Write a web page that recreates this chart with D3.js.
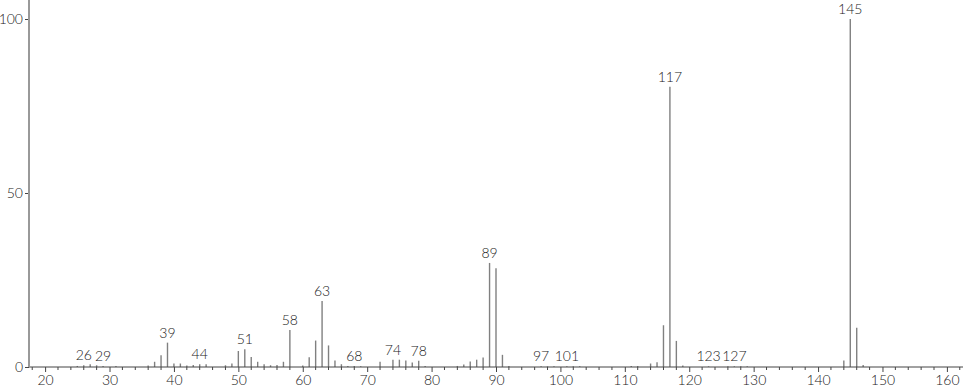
<!DOCTYPE html>
<html><head><meta charset="utf-8">
<script src="https://cdn.jsdelivr.net/npm/d3@7"></script>
<style>
html,body{margin:0;padding:0;background:#fff;}
text{font-family:"Lato","DejaVu Sans",sans-serif;font-weight:300;fill:#222;}
</style>
</head><body>
<svg id="c" width="966" height="389"></svg>
<script>
const mz = [25,26,27,28,29,31,36,37,38,39,40,41,42,43,44,45,48,49,50,51,52,53,54,55,56,57,58,60,61,62,63,64,65,66,67,68,69,72,74,75,76,77,78,79,84,85,86,87,88,89,90,91,92,97,98,99,101,102,103,111,112,114,115,116,117,118,119,123,126,127,128,129,144,145,146,147];
const intensity = [0.3,0.5,0.8,0.5,0.3,0.3,0.4,1.5,3.4,7.0,1.0,1.0,0.4,0.6,0.8,0.8,0.5,1.0,4.6,5.1,2.9,1.5,0.8,0.5,0.6,1.5,10.6,0.4,2.8,7.6,19.0,6.2,1.9,0.8,0.3,0.3,0.2,1.5,2.1,2.1,1.9,1.3,1.8,0.3,0.3,0.7,1.6,2.1,2.7,29.9,28.4,3.5,0.3,0.2,0.2,0.2,0.2,0.2,0.2,0.3,0.3,1.0,1.4,12.0,80.5,7.5,0.4,0.2,0.2,0.2,0.2,0.2,1.9,100,11.3,0.6];
const labeledPeaks = [26,29,39,44,51,58,63,68,74,78,89,97,101,117,123,127,145];
const xTicks = [20,30,40,50,60,70,80,90,100,110,120,130,140,150,160];
const yTicks = [0,50,100];

const svg = d3.select("#c");
const x = d3.scaleLinear().domain([17.5,162.5]).range([29,963]);
const y = d3.scaleLinear().domain([0,100]).range([367,19]);
const data = mz.map((m,i)=>({m, v:intensity[i]}));

// peaks
svg.append("g").selectAll("line").data(data).join("line")
  .attr("x1",d=>x(d.m)).attr("x2",d=>x(d.m))
  .attr("y1",y(0)).attr("y2",d=>y(d.v))
  .attr("stroke","#808080").attr("stroke-width",1.4);

// x axis
const xAxis = svg.append("g").attr("transform",`translate(0,${y(0)})`)
  .call(d3.axisBottom(x).tickValues(xTicks).tickSize(5).tickPadding(3).tickFormat(d3.format("d")));
xAxis.select(".domain").remove();
xAxis.selectAll(".tick line").attr("stroke","#444");
xAxis.selectAll("text").attr("font-size",14).attr("fill","#222");
const minor = d3.range(18,163,2).filter(d=>d%10!==0);
svg.append("g").selectAll("line").data(minor).join("line")
  .attr("x1",d=>x(d)).attr("x2",d=>x(d)).attr("y1",y(0)).attr("y2",y(0)+3)
  .attr("stroke","#444");
svg.append("line").attr("x1",29).attr("x2",963).attr("y1",y(0)).attr("y2",y(0))
  .attr("stroke","#444").attr("stroke-width",1);

// y axis
const yAxis = svg.append("g").attr("transform","translate(29,0)")
  .call(d3.axisLeft(y).tickValues(yTicks).tickSize(4).tickPadding(2).tickFormat(d3.format("d")));
yAxis.select(".domain").remove();
yAxis.selectAll(".tick line").attr("stroke","#444");
yAxis.selectAll("text").attr("font-size",14).attr("fill","#222");
svg.append("line").attr("x1",29).attr("x2",29).attr("y1",0).attr("y2",y(0))
  .attr("stroke","#999").attr("stroke-width",2);

// peak labels
const lab = data.filter(d=>labeledPeaks.includes(d.m));
svg.append("g").selectAll("text").data(lab).join("text")
  .attr("x",d=>x(d.m)).attr("y",d=>Math.min(y(d.v)-5,362))
  .attr("text-anchor","middle").attr("font-size",14)
  .text(d=>d.m);
</script>
</body></html>
